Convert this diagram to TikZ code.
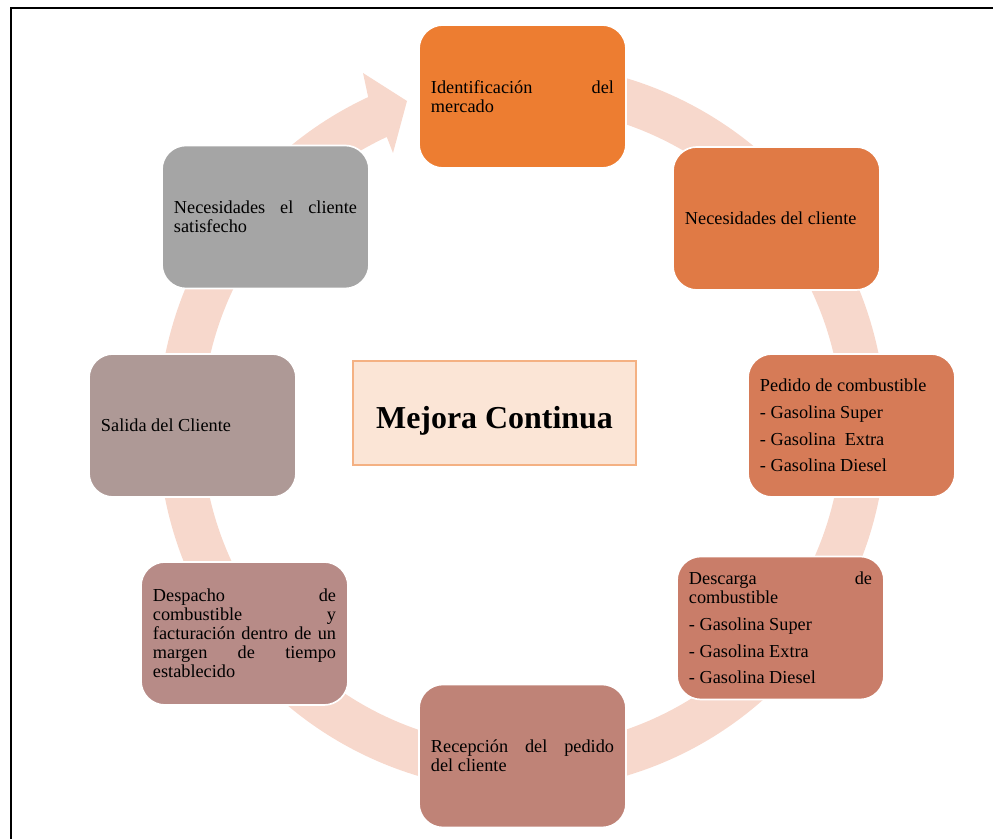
\documentclass[tikz,border=0pt]{standalone}
\usepackage{fontspec}
\setmainfont{Liberation Serif}
\usetikzlibrary{calc}
\definecolor{ringc}{HTML}{F7D8CC}
\definecolor{cA}{HTML}{ED7D31}
\definecolor{cB}{HTML}{E07A45}
\definecolor{cC}{HTML}{D67B57}
\definecolor{cD}{HTML}{C97D69}
\definecolor{cE}{HTML}{BF8377}
\definecolor{cF}{HTML}{B78B87}
\definecolor{cG}{HTML}{AE9996}
\definecolor{cH}{HTML}{A5A5A5}
\definecolor{cfill}{HTML}{FBE5D6}
\definecolor{cborder}{HTML}{F4B183}
\tikzset{
  stage/.style={draw=white, line width=1.2pt, rounded corners=0.6cm,
    minimum width=5.175cm, minimum height=3.575cm, text width=4.575cm,
    inner sep=0pt, align=justify,
    font=\fontsize{13}{13.5}\selectfont,
    execute at begin node={\parskip=5.5pt\hyphenpenalty=10000\exhyphenpenalty=10000\tolerance=10000\relax}},
  frameline/.style={line width=1.6pt, black},
}
\begin{document}
\begin{tikzpicture}[x=0.025cm,y=0.025cm]
\useasboundingbox (0,0) rectangle (993,839);
% frame
\draw[frameline] (11,0) -- (11,831) -- (993,831);
% ring with arrow head
\coordinate (C) at (522,412);
\fill[ringc] ($(C)+(100:364)$) arc[start angle=100, end angle=-245, radius=364]
  -- (363,766) -- (407,738) -- (393,686)
  -- ($(C)+(115:320)$) arc[start angle=115, end angle=460, radius=320] -- cycle;
% stages
\node[stage, fill=cA] (s1) at (522.5,742.5) {Identificación del\linebreak mercado};
\node[stage, fill=cB] (s2) at (776.5,620.5) {Necesidades del cliente};
\node[stage, fill=cC] (s3) at (851.5,413.5) {Pedido de combustible\par - Gasolina Super\par - Gasolina\ \ Extra\par - Gasolina Diesel};
\node[stage, fill=cD] (s4) at (780.5,211) {Descarga de\linebreak combustible\par - Gasolina Super\par - Gasolina Extra\par - Gasolina Diesel};
\node[stage, fill=cE] (s5) at (522.5,83) {Recepción del pedido\linebreak del cliente};
\node[stage, fill=cF] (s6) at (244.5,205.5) {Despacho de\linebreak combustible y\linebreak facturación dentro de un\linebreak margen de tiempo\linebreak establecido};
\node[stage, fill=cG] (s7) at (192.5,413.5) {Salida del Cliente};
\node[stage, fill=cH] (s8) at (265.5,622) {Necesidades el cliente\linebreak satisfecho};
% centre
\node[draw=cborder, fill=cfill, line width=1.4pt, minimum width=7.075cm, minimum height=2.6cm,
  text height=21.4pt, text depth=0pt,
  font=\bfseries\fontsize{22.7}{26}\selectfont] (centre) at (494.5,426) {Mejora Continua};
\end{tikzpicture}
\end{document}
